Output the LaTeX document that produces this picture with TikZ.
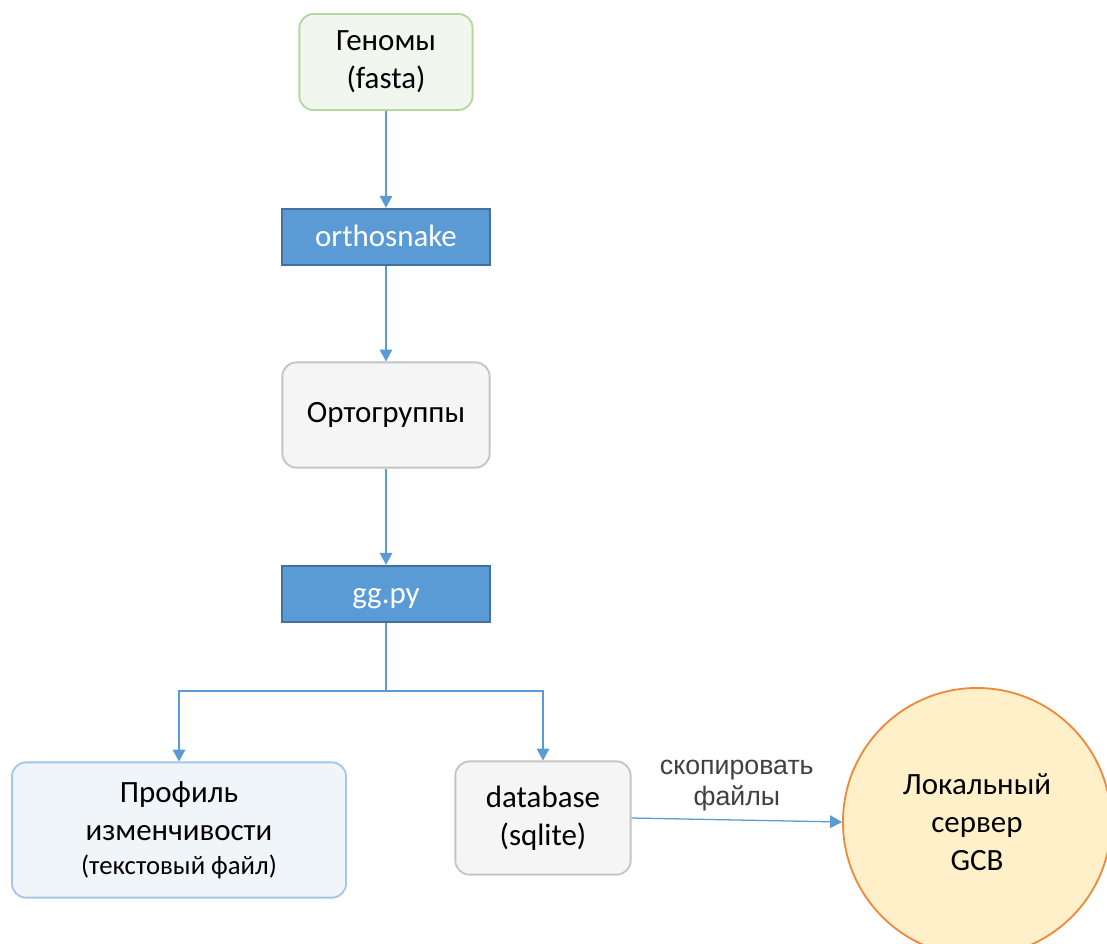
\documentclass[tikz,border=0pt]{standalone}
\usepackage{fontspec}
\setmainfont{Carlito}
\newfontfamily\labelfont{Liberation Sans}
\usepackage{tikz}
\usetikzlibrary{positioning,arrows.meta}

\definecolor{flowblue}{HTML}{5B9BD5}
\definecolor{flowdark}{HTML}{41719C}
\definecolor{genofill}{HTML}{F1F6EE}
\definecolor{genoline}{HTML}{B4D8A0}
\definecolor{greyfill}{HTML}{F5F5F5}
\definecolor{greyline}{HTML}{C4C4C4}
\definecolor{proffill}{HTML}{F0F5FA}
\definecolor{profline}{HTML}{A4C6EA}
\definecolor{srvfill}{HTML}{FFF0C9}
\definecolor{srvline}{HTML}{EE8A3C}
\definecolor{labelgrey}{HTML}{404040}

\begin{document}
\begin{tikzpicture}[x=0.025cm, y=-0.025cm,
  every node/.style={font=\fontsize{22}{27}\selectfont, align=center, inner sep=0pt},
  databox/.style={draw, rounded corners=10pt, line width=1.3pt},
  toolbox/.style={draw=flowdark, fill=flowblue, line width=1.8pt, text=white,
    minimum width=5.2cm, minimum height=1.4cm, text height=16pt, text depth=3.2pt},
  arr/.style={draw=flowblue, line width=0.9pt, -{Triangle[length=8.5pt,width=9pt]}}]
  \path[use as bounding box, fill=white] (0,0) rectangle (1107,943);

  % Entrees
  \node[databox, draw=genoline, fill=genofill, minimum width=4.33cm, minimum height=2.4cm]
    (genomes) at (386, 62) {Геномы\\(fasta)};

  % Outils
  \node[toolbox] (ortho) at (386, 237) {orthosnake};
  \node[databox, draw=greyline, fill=greyfill, minimum width=5.18cm, minimum height=2.63cm]
    (groups) at (386, 415) {Ортогруппы};
  \node[toolbox] (gg) at (386, 594) {gg.py};

  % Sorties
  \node[databox, draw=profline, fill=proffill, minimum width=8.35cm, minimum height=3.38cm]
    (profile) at (179, 830) {Профиль\\изменчивости\\[-3pt]{\fontsize{19}{22}\selectfont(текстовый файл)}};
  \node[databox, draw=greyline, fill=greyfill, minimum width=4.38cm, minimum height=2.83cm]
    (db) at (543, 818) {database\\(sqlite)};

  % Serveur
  \node[circle, draw=srvline, fill=srvfill, line width=1.3pt, minimum size=6.7cm]
    (server) at (977, 822) {Локальный\\сервер\\GCB};

  % Connexions
  \coordinate (split) at (386, 691);
  \draw[arr] (genomes) -- (ortho);
  \draw[arr] (ortho) -- (groups);
  \draw[arr] (groups) -- (gg);
  \draw[arr, -] (gg) -- (split);
  \draw[arr] (split) -| (profile);
  \draw[arr] (split) -| (db);
  \draw[arr] (db.east) -- node[above=6pt, font=\labelfont\fontsize{19}{22}\selectfont, text=labelgrey]
    {скопировать\\файлы} (server.west);
\end{tikzpicture}
\end{document}
